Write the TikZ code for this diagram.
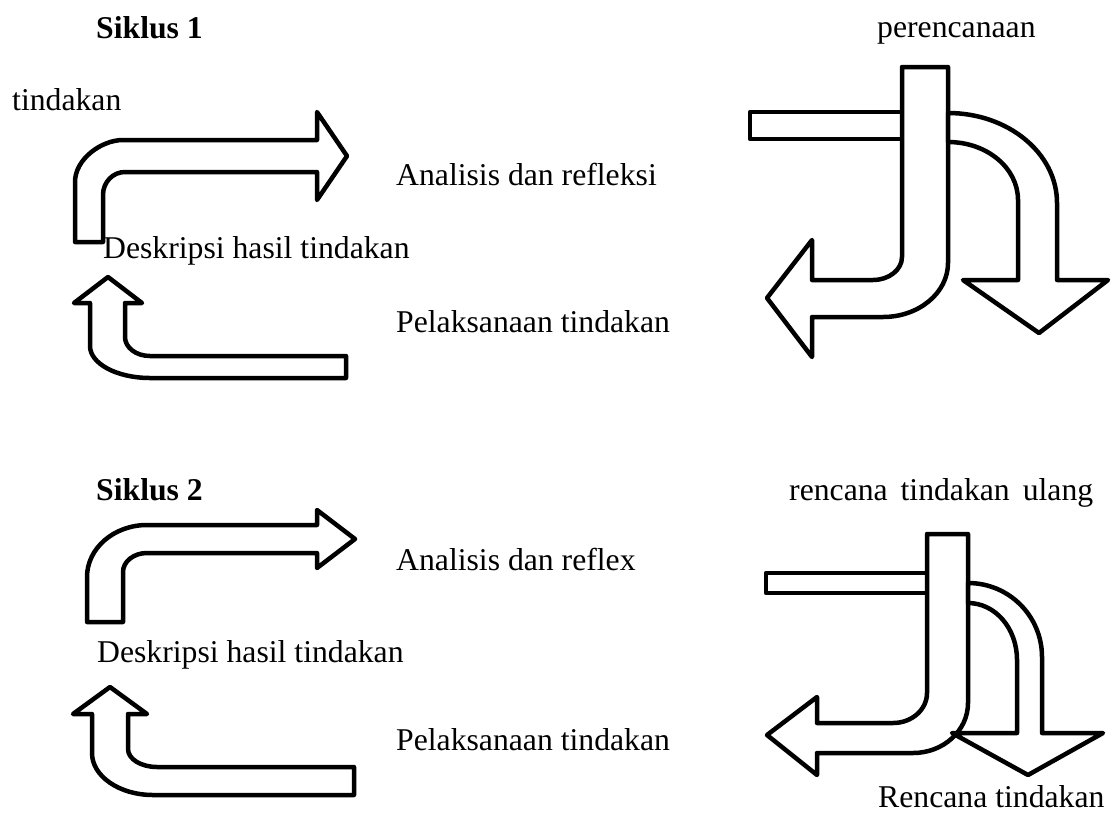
\documentclass[tikz,border=0pt]{standalone}
\usepackage{fontspec}
\setmainfont{Liberation Serif}
\begin{document}
\begin{tikzpicture}[x=1pt,y=-1pt,
  shp/.style={draw=black, line width=4.5pt, fill=white, line join=round},
  lbl/.style={font=\fontsize{31.7}{38}\selectfont, anchor=base west, inner sep=0pt},
  bld/.style={font=\fontsize{31.7}{38}\selectfont\bfseries, anchor=base west, inner sep=0pt}]
\useasboundingbox (0,0) rectangle (1115,814);

% ---------- Siklus 1, left arrows ----------
\draw[shp] (75,242) -- (75,182) .. controls (75,159) and (101.5,140) .. (123,140)
  -- (317,140) -- (317,112) -- (347,156) -- (317,200) -- (317,172) -- (125,172)
  .. controls (113,172) and (103,182) .. (103,195) -- (103,242) -- cycle;

\draw[shp] (108,277) -- (142,303) -- (125,303) -- (125,337)
  .. controls (125,347.5) and (136,356) .. (150,356) -- (346,356) -- (346,378) -- (150,378)
  .. controls (117,378) and (90,363.7) .. (90,346) -- (90,303) -- (74,303) -- cycle;

% ---------- Siklus 1, right shape ----------
\draw[shp] (750,112) rectangle (902,139);
\draw[shp] (902,67) -- (948,67) -- (948,263) .. controls (948,292.8) and (918.9,317) .. (883,317)
  -- (812,317) -- (812,357) -- (767,298) -- (812,240) -- (812,280) -- (873,280)
  .. controls (889,280) and (902,269.7) .. (902,257) -- cycle;
\draw[shp] (948,113) .. controls (1008,113) and (1057,153) .. (1057,203) -- (1057,280)
  -- (1108,280) -- (1039,333) -- (963,280) -- (1018,280) -- (1018,200)
  .. controls (1018,168) and (987,142) .. (948,142) -- cycle;

% ---------- Siklus 2, left arrows ----------
\draw[shp] (87,622) -- (87,577) .. controls (87,548.3) and (113.9,525) .. (147,525)
  -- (317,525) -- (317,510) -- (355,539) -- (317,568) -- (317,553) -- (147,553)
  .. controls (133.8,553) and (123,561.5) .. (123,572) -- (123,622) -- cycle;

\draw[shp] (110,687) -- (147,714) -- (128,714) -- (128,749)
  .. controls (128,759) and (141,767) .. (157,767) -- (354,767) -- (354,795) -- (153,795)
  .. controls (119.3,795) and (92,776.2) .. (92,753) -- (92,714) -- (73,714) -- cycle;

% ---------- Siklus 2, right shape ----------
\draw[shp] (766,573) rectangle (927,593);
\draw[shp] (927,534) -- (968,534) -- (968,703) .. controls (968,730.6) and (943.4,753) .. (913,753)
  -- (817,753) -- (817,775) -- (767,735) -- (817,697) -- (817,723) -- (893,723)
  .. controls (911.8,723) and (927,709.6) .. (927,693) -- cycle;
\draw[shp] (968,583) .. controls (1009,583) and (1042,616) .. (1042,657) -- (1042,733)
  -- (1103,733) -- (1028,775) -- (952,733) -- (1017,733) -- (1017,660)
  .. controls (1017,628) and (995,603) .. (968,603) -- cycle;

% ---------- Texts ----------
\node[bld] (s1) at (96,38) {Siklus 1};
\node[lbl] (t1) at (12,110) {tindakan};
\node[lbl] (ar1) at (396,185) {Analisis dan refleksi};
\node[lbl] (dh1) at (103,258) {Deskripsi hasil tindakan};
\node[lbl] (pt1) at (396,332) {Pelaksanaan tindakan};
\node[lbl] (pr1) at (877,37) {perencanaan};
\node[bld] (s2) at (96,500) {Siklus 2};
\node[lbl] (rtu) at (789,500) {rencana\hspace{5pt} tindakan\hspace{5pt} ulang};
\node[lbl] (ar2) at (396,570) {Analisis dan reflex};
\node[lbl] (dh2) at (97,662) {Deskripsi hasil tindakan};
\node[lbl] (pt2) at (396,750) {Pelaksanaan tindakan};
\node[lbl] (rt) at (878,807) {Rencana tindakan};
\end{tikzpicture}
\end{document}
